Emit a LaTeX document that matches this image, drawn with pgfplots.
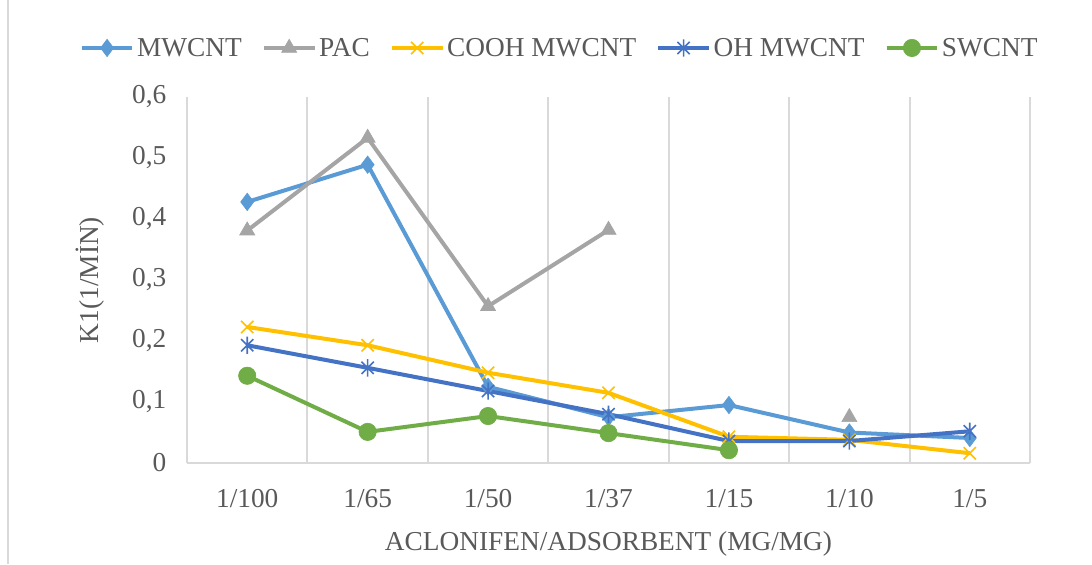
\documentclass[border=0pt]{standalone}
\usepackage{fontspec}
\setmainfont{Liberation Serif}
\usepackage{pgfplots}
\pgfplotsset{compat=1.18}
\definecolor{cMW}{HTML}{5B9BD5}
\definecolor{cPAC}{HTML}{A5A5A5}
\definecolor{cCO}{HTML}{FFC000}
\definecolor{cOH}{HTML}{4472C4}
\definecolor{cSW}{HTML}{70AD47}
\definecolor{txt}{HTML}{595959}
\definecolor{grd}{HTML}{D9D9D9}
\pgfdeclareplotmark{xstar}{%
  \pgfpathmoveto{\pgfqpoint{0pt}{\pgfplotmarksize}}%
  \pgfpathlineto{\pgfqpoint{0pt}{-\pgfplotmarksize}}%
  \pgfpathmoveto{\pgfqpoint{0.7071\pgfplotmarksize}{0.7071\pgfplotmarksize}}%
  \pgfpathlineto{\pgfqpoint{-0.7071\pgfplotmarksize}{-0.7071\pgfplotmarksize}}%
  \pgfpathmoveto{\pgfqpoint{-0.7071\pgfplotmarksize}{0.7071\pgfplotmarksize}}%
  \pgfpathlineto{\pgfqpoint{0.7071\pgfplotmarksize}{-0.7071\pgfplotmarksize}}%
  \pgfusepathqstroke}
\begin{document}
\begin{tikzpicture}
\useasboundingbox (0,0) rectangle (819pt,423pt);
\draw[grd, line width=1.2pt] (6pt,0pt) -- (6pt,423pt);
\begin{axis}[
  at={(140.25pt,75.75pt)}, anchor=south west,
  scale only axis, width=632.25pt, height=274.5pt,
  xmin=-0.5, xmax=6.5, ymin=0, ymax=0.6,
  xtick={0,...,6},
  xticklabels={1/100,1/65,1/50,1/37,1/15,1/10,1/5},
  extra x ticks={-0.5,0.5,1.5,2.5,3.5,4.5,5.5,6.5},
  extra x tick labels={},
  extra x tick style={grid=major, major grid style={grd, line width=1.5pt}, major tick length=0pt},
  ytick={0,0.1,...,0.6},
  major tick length=0pt,
  axis x line*=bottom, axis y line*=left,
  x axis line style={grd, line width=1.5pt, -},
  y axis line style={draw=none},
  font=\fontsize{20.5}{24}\selectfont,
  tick label style={text=txt},
  /pgf/number format/.cd, use comma, assume math mode=true, fixed, precision=1,
  /pgfplots/.cd,
  xticklabel style={yshift=-16pt},
  yticklabel style={xshift=-12pt},
  xlabel={ACLONIFEN/ADSORBENT (MG/MG)},
  ylabel={K1(1/MİN)},
  label style={text=txt},
  xlabel style={at={(axis description cs:0.5,-0.22)}, anchor=center},
  ylabel style={at={(axis description cs:-0.115,0.5)}, anchor=center},
  unbounded coords=jump,
  every axis plot/.append style={line width=3pt},
  legend columns=5,
  legend style={draw=none, fill=none, at={(axis description cs:0.4425,1.134)}, anchor=center,
    font=\fontsize{20.5}{24}\selectfont, text=txt,
    /tikz/every even column/.append style={column sep=13pt},
    /tikz/every odd column/.append style={column sep=0pt}},
  legend cell align=left,
  legend image code/.code={\draw[mark repeat=2,mark phase=2] plot coordinates {(0pt,0pt) (19pt,0pt) (38pt,0pt)};},
]
\addplot[cMW, mark=diamond*, mark size=6.5pt, mark options={solid, fill=cMW, line width=0.5pt}]
  coordinates {(0,0.428) (1,0.489) (2,0.125) (3,0.075) (4,0.095) (5,0.050) (6,0.041)};
\addlegendentry{MWCNT}
\addplot[cPAC, mark=triangle*, mark size=6.5pt, mark options={solid, fill=cPAC, line width=0.5pt}]
  coordinates {(0,0.381) (1,0.533) (2,0.257) (3,0.382) (4,nan) (5,0.075) (6,nan)};
\addlegendentry{PAC}
\addplot[cCO, mark=x, mark size=6.5pt, mark options={solid, line width=1.2pt}]
  coordinates {(0,0.223) (1,0.193) (2,0.148) (3,0.115) (4,0.043) (5,0.038) (6,0.016)};
\addlegendentry{COOH MWCNT}
\addplot[cOH, mark=xstar, mark size=6.5pt, mark options={solid, line width=1.2pt}]
  coordinates {(0,0.193) (1,0.156) (2,0.118) (3,0.080) (4,0.036) (5,0.036) (6,0.052)};
\addlegendentry{OH MWCNT}
\addplot[cSW, mark=*, mark size=6.5pt, mark options={solid, fill=cSW, line width=0.5pt}]
  coordinates {(0,0.143) (1,0.051) (2,0.077) (3,0.049) (4,0.021) (5,nan) (6,nan)};
\addlegendentry{SWCNT}
\end{axis}
\end{tikzpicture}
\end{document}
